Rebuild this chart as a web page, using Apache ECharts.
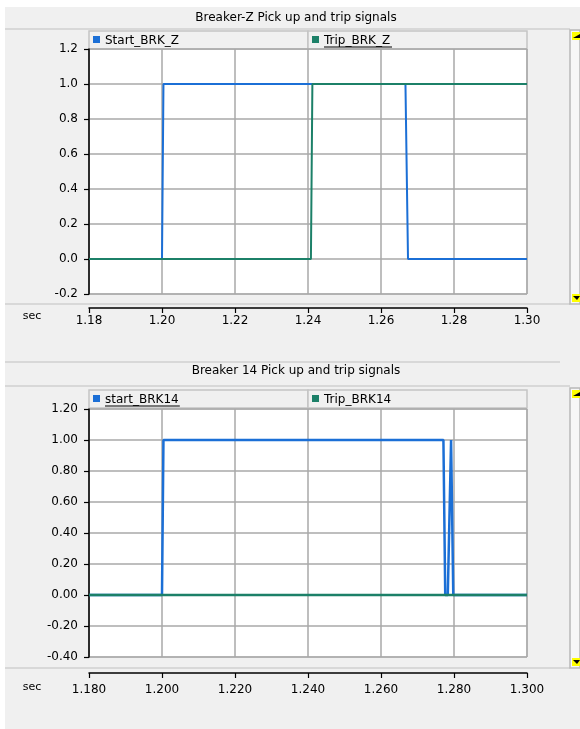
<!DOCTYPE html>
<html>
<head>
<meta charset="utf-8">
<script src="https://cdn.jsdelivr.net/npm/echarts@6/dist/echarts.min.js"></script>
<style>
  html, body { margin: 0; padding: 0; background: #ffffff; }
  #chart { width: 580px; height: 729px; }
</style>
</head>
<body>
<div id="chart"></div>
<script>
// Breaker pick-up / trip logic signals, time in seconds
const xTicks = [1.18, 1.20, 1.22, 1.24, 1.26, 1.28, 1.30];

const titleZ = 'Breaker-Z Pick up and trip signals';
const namesZ = ['Start_BRK_Z', 'Trip_BRK_Z'];
const startZ_t = [1.18, 1.2000, 1.2004, 1.2667, 1.2674, 1.30];
const startZ_v = [0, 0, 1, 1, 0, 0];
const tripZ_t = [1.18, 1.2408, 1.2412, 1.30];
const tripZ_v = [0, 0, 1, 1];

const title14 = 'Breaker 14 Pick up and trip signals';
const names14 = ['start_BRK14', 'Trip_BRK14'];
const start14_t = [1.18, 1.2000, 1.2004, 1.2771, 1.2776, 1.2783, 1.2792, 1.2795, 1.2798, 1.30];
const start14_v = [0, 0, 1, 1, 0, 0, 1, 1, 0, 0];
const trip14_t = [1.18, 1.30];
const trip14_v = [0, 0];

const blue = '#1b6fd6';
const green = '#1c8068';
const gridGray = '#a9a9a9';
const font = 'DejaVu Sans';

const zip = (t, v) => t.map((x, i) => [x, v[i]]);

const chart = echarts.init(document.getElementById('chart'), null, { renderer: 'canvas' });

function xAxisFor(gridIndex, decimals, offset, margin) {
  return {
    type: 'value', gridIndex, min: xTicks[0], max: xTicks[xTicks.length - 1], interval: 0.02,
    offset,
    axisLine: { show: true, onZero: false, lineStyle: { color: '#000', width: 1.5 } },
    axisTick: { show: true, inside: false, length: 5, lineStyle: { color: '#000', width: 1.2 } },
    axisLabel: { color: '#000', fontFamily: font, fontSize: 12, margin,
      formatter: v => v.toFixed(decimals) },
    splitLine: { show: true, lineStyle: { color: gridGray, width: 1.5 } }
  };
}
function yAxisFor(gridIndex, min, max, decimals) {
  return {
    type: 'value', gridIndex, min, max, interval: 0.2,
    axisLine: { show: true, onZero: false, lineStyle: { color: '#000', width: 1.5 } },
    axisTick: { show: true, inside: false, length: 5, lineStyle: { color: '#000', width: 1.2 } },
    axisLabel: { color: '#000', fontFamily: font, fontSize: 12, margin: 11,
      formatter: v => v.toFixed(decimals) },
    splitLine: { show: true, lineStyle: { color: gridGray, width: 1.5 } }
  };
}
function lineSeries(name, data, color, idx, width) {
  return {
    name, type: 'line', data, xAxisIndex: idx, yAxisIndex: idx,
    showSymbol: false, symbol: 'none', animation: false,
    lineStyle: { color, width }, itemStyle: { color }
  };
}

// Panel chrome: title bars, legend boxes, scroll strips
function legendBox(x, y, w, h, name, color, underline) {
  const els = [
    { type: 'rect', shape: { x, y, width: w, height: h },
      style: { fill: '#f0f0f0', stroke: '#c4c4c4', lineWidth: 1.5 } },
    { type: 'rect', shape: { x: x + 4, y: y + 5, width: 7, height: 7 }, style: { fill: color } },
    { type: 'text', x: x + 16, y: y + h / 2 + 0.5,
      style: { text: name, fill: '#000', font: '12px ' + font, textVerticalAlign: 'middle' } }
  ];
  if (underline) {
    els.push({ type: 'line', shape: { x1: x + 16, y1: y + h / 2 + 7, x2: x + 16 + name.length * 6.8, y2: y + h / 2 + 7 },
      style: { stroke: '#000', lineWidth: 1 } });
  }
  return els;
}
function scrollStrip(y1, y2) {
  return [
    { type: 'rect', shape: { x: 570, y: y1, width: 10, height: y2 - y1 },
      style: { fill: '#f7f7f7', stroke: '#b8b8b8', lineWidth: 1.5 } },
    { type: 'rect', shape: { x: 572, y: y1 + 2, width: 8, height: 8 }, style: { fill: '#ffff00' } },
    { type: 'polygon', shape: { points: [[573, y1 + 8], [580, y1 + 8], [580, y1 + 4]] }, style: { fill: '#000' } },
    { type: 'rect', shape: { x: 572, y: y2 - 10, width: 8, height: 8 }, style: { fill: '#ffff00' } },
    { type: 'polygon', shape: { points: [[573, y2 - 8], [580, y2 - 8], [577, y2 - 4]] }, style: { fill: '#000' } }
  ];
}

const graphics = [
  { type: 'rect', z: -10, shape: { x: 5, y: 7, width: 575, height: 722 }, style: { fill: '#f0f0f0' } },
  { type: 'line', shape: { x1: 5, y1: 29, x2: 570, y2: 29 }, style: { stroke: '#d0d0d0', lineWidth: 1.5 } },
  { type: 'line', shape: { x1: 5, y1: 304, x2: 570, y2: 304 }, style: { stroke: '#d0d0d0', lineWidth: 1.5 } },
  { type: 'line', shape: { x1: 5, y1: 362, x2: 560, y2: 362 }, style: { stroke: '#d0d0d0', lineWidth: 1.5 } },
  { type: 'line', shape: { x1: 5, y1: 386, x2: 570, y2: 386 }, style: { stroke: '#d0d0d0', lineWidth: 1.5 } },
  { type: 'line', shape: { x1: 5, y1: 668, x2: 570, y2: 668 }, style: { stroke: '#d0d0d0', lineWidth: 1.5 } },
  { type: 'text', x: 296, y: 18, style: { text: titleZ, fill: '#000', font: '12px ' + font,
      textAlign: 'center', textVerticalAlign: 'middle' } },
  { type: 'text', x: 296, y: 371, style: { text: title14, fill: '#000', font: '12px ' + font,
      textAlign: 'center', textVerticalAlign: 'middle' } },
  { type: 'text', x: 32, y: 316, style: { text: 'sec', fill: '#000', font: '11px ' + font,
      textAlign: 'center', textVerticalAlign: 'middle' } },
  { type: 'text', x: 32, y: 687, style: { text: 'sec', fill: '#000', font: '11px ' + font,
      textAlign: 'center', textVerticalAlign: 'middle' } },
  ...legendBox(89, 31, 219, 18, namesZ[0], blue, false),
  ...legendBox(308, 31, 219, 18, namesZ[1], green, true),
  ...legendBox(89, 390, 219, 18, names14[0], blue, true),
  ...legendBox(308, 390, 219, 18, names14[1], green, false),
  ...scrollStrip(30, 304),
  ...scrollStrip(388, 668)
];

chart.setOption({
  animation: false,
  backgroundColor: 'transparent',
  grid: [
    { left: 89, right: 53, top: 49, height: 245, show: true, backgroundColor: '#ffffff',
      borderColor: gridGray, borderWidth: 1 },
    { left: 89, right: 53, top: 409, height: 248, show: true, backgroundColor: '#ffffff',
      borderColor: gridGray, borderWidth: 1 }
  ],
  xAxis: [xAxisFor(0, 2, 14, 7), xAxisFor(1, 3, 16, 11)],
  yAxis: [yAxisFor(0, -0.2, 1.2, 1), yAxisFor(1, -0.4, 1.2, 2)],
  series: [
    lineSeries(namesZ[0], zip(startZ_t, startZ_v), blue, 0, 2),
    lineSeries(namesZ[1], zip(tripZ_t, tripZ_v), green, 0, 2),
    lineSeries(names14[0], zip(start14_t, start14_v), blue, 1, 2.5),
    lineSeries(names14[1], zip(trip14_t, trip14_v), green, 1, 2.5)
  ],
  graphic: graphics
});
</script>
</body>
</html>
